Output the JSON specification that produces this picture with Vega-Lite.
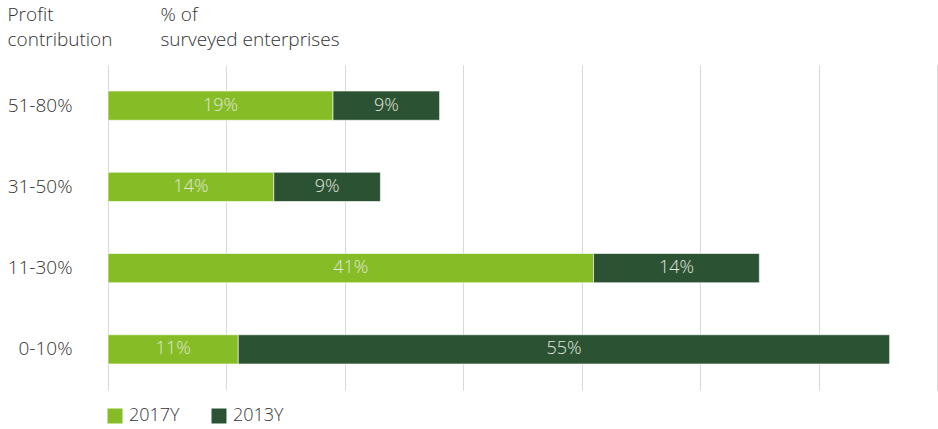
{
  "$schema": "https://vega.github.io/schema/vega-lite/v6.json",
  "autosize": "none",
  "width": 829,
  "height": 325,
  "padding": {"left": 108, "top": 65, "right": 1, "bottom": 39},
  "background": "white",
  "config": {
    "font": "Open Sans",
    "view": {"stroke": null}
  },
  "data": {
    "values": [
      {"cat": "51-80%", "year": "2017Y", "ord": 1, "v": 19},
      {"cat": "51-80%", "year": "2013Y", "ord": 2, "v": 9},
      {"cat": "31-50%", "year": "2017Y", "ord": 1, "v": 14},
      {"cat": "31-50%", "year": "2013Y", "ord": 2, "v": 9},
      {"cat": "11-30%", "year": "2017Y", "ord": 1, "v": 41},
      {"cat": "11-30%", "year": "2013Y", "ord": 2, "v": 14},
      {"cat": "0-10%", "year": "2017Y", "ord": 1, "v": 11},
      {"cat": "0-10%", "year": "2013Y", "ord": 2, "v": 55}
    ]
  },
  "transform": [
    {"stack": "v", "groupby": ["cat"], "sort": [{"field": "ord"}], "as": ["x0", "x1"]},
    {"calculate": "(datum.x0 + datum.x1) / 2", "as": "mid"},
    {"calculate": "datum.v + '%'", "as": "lab"}
  ],
  "encoding": {
    "y": {
      "field": "cat",
      "type": "nominal",
      "sort": ["51-80%", "31-50%", "11-30%", "0-10%"],
      "scale": {"paddingInner": 0.64, "paddingOuter": 0.32},
      "axis": {
        "title": ["Profit", "contribution"],
        "titleAngle": 0,
        "titleAlign": "left",
        "titleBaseline": "top",
        "titleX": -101,
        "titleY": -60,
        "titleFontSize": 19,
        "titleFontWeight": 300,
        "titleColor": "#333333",
        "titleLineHeight": 25,
        "labelFontSize": 19,
        "labelFontWeight": 300,
        "labelColor": "#333333",
        "labelPadding": 36,
        "ticks": false,
        "domain": false,
        "grid": false
      }
    }
  },
  "layer": [
    {
      "mark": {"type": "bar", "stroke": "white", "strokeWidth": 1, "strokeOpacity": 0.6},
      "encoding": {
        "x": {
          "field": "x0",
          "type": "quantitative",
          "scale": {"domain": [0, 70], "nice": false},
          "axis": {
            "orient": "top",
            "values": [0, 10, 20, 30, 40, 50, 60, 70],
            "labels": false,
            "ticks": false,
            "domain": false,
            "grid": true,
            "gridColor": "#d9d9d9",
            "gridWidth": 1,
            "title": ["% of", "surveyed enterprises"],
            "titleAlign": "left",
            "titleBaseline": "top",
            "titleAnchor": "start",
            "titleX": 52,
            "titleY": -60,
            "titleFontSize": 19,
            "titleFontWeight": 300,
            "titleColor": "#333333",
            "titleLineHeight": 25
          }
        },
        "x2": {"field": "x1"},
        "color": {
          "field": "year",
          "type": "nominal",
          "scale": {"domain": ["2017Y", "2013Y"], "range": ["#86bc25", "#2c5234"]},
          "legend": {
            "title": null,
            "orient": "none",
            "direction": "horizontal",
            "legendX": -2,
            "legendY": 342,
            "symbolType": "square",
            "symbolSize": 225,
            "symbolStrokeWidth": 0,
            "symbolOpacity": 1,
            "labelFontSize": 18,
            "labelFontWeight": 300,
            "labelColor": "#333333",
            "labelOffset": 5,
            "columnPadding": 30
          }
        },
        "order": {"field": "ord", "type": "quantitative"}
      }
    },
    {
      "mark": {"type": "text", "fontSize": 18, "fontWeight": 300, "color": "#e2e6df", "align": "center", "baseline": "middle"},
      "encoding": {
        "x": {"field": "mid", "type": "quantitative"},
        "text": {"field": "lab", "type": "nominal"}
      }
    }
  ]
}
